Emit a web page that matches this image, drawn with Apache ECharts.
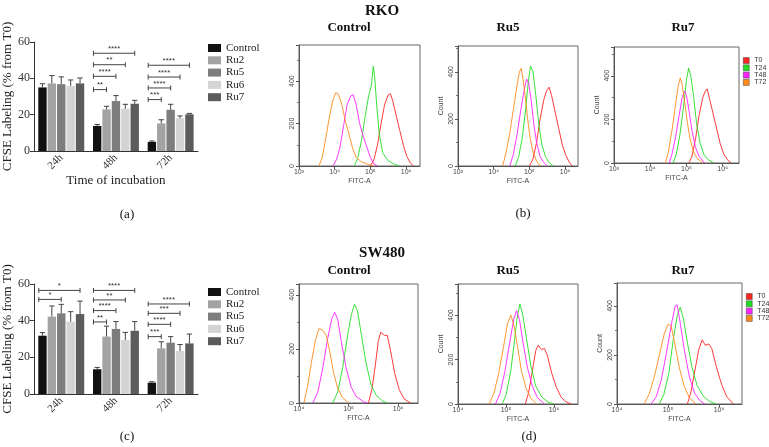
<!DOCTYPE html>
<html><head><meta charset="utf-8">
<script src="https://cdn.jsdelivr.net/npm/echarts@6/dist/echarts.min.js"></script>
<style>html,body{margin:0;padding:0;background:#fff}#c{width:769px;height:447px}</style>
</head><body><div id="c"></div><script>
// ---------- bar chart data ----------
const categories = ['24h', '48h', '72h'];
const groups = ['Control', 'Ru2', 'Ru5', 'Ru6', 'Ru7'];
// (a) RKO
const aControl = [35.0, 13.8, 5.0];   const aControlErr = [2.0, 0.8, 0.5];
const aRu2 = [37.2, 22.9, 15.2];      const aRu2Err = [4.3, 1.7, 2.0];
const aRu5 = [36.8, 27.5, 22.7];      const aRu5Err = [4.0, 3.0, 3.0];
const aRu6 = [35.8, 23.3, 18.0];      const aRu6Err = [3.3, 2.4, 1.3];
const aRu7 = [37.2, 26.0, 20.2];      const aRu7Err = [3.0, 1.9, 0.5];
// [category, compared group index, y]
const aBrackets = [[1,1,33.8],[1,2,41.1],[1,3,47.5],[1,4,53.8],[2,1,28.3],[2,2,34.7],[2,3,40.7],[2,4,47.2]];
const aStars = ['**','****','**','****','***','****','****','****'];
// (c) SW480
const cControl = [31.8, 13.5, 6.2];   const cControlErr = [1.7, 1.0, 0.5];
const cRu2 = [42.2, 31.3, 24.9];      const cRu2Err = [5.8, 5.7, 3.6];
const cRu5 = [44.0, 35.5, 28.0];      const cRu5Err = [4.9, 4.0, 3.3];
const cRu6 = [39.5, 29.5, 23.5];      const cRu6Err = [5.4, 4.1, 3.5];
const cRu7 = [43.6, 34.5, 27.6];      const cRu7Err = [7.1, 5.0, 5.1];
const cBrackets = [[0,2,51.6],[0,4,56.5],[1,1,39.3],[1,2,45.5],[1,3,51.3],[1,4,56.5],[2,1,31.3],[2,2,38.0],[2,3,44.0],[2,4,49.1]];
const cStars = ['*','*','**','****','**','****','***','****','***','****'];

// ---------- histogram data: [log10(FITC-A), count] ----------
const rkoCtlT0 = [[5.0,0],[5.1,30],[5.2,100],[5.3,200],[5.4,290],[5.5,335],[5.56,340],[5.62,310],[5.72,240],[5.82,170],[5.92,100],[6.02,45],[6.12,15],[6.2,0]];
const rkoCtlT24 = [[4.55,0],[4.65,40],[4.75,120],[4.85,230],[4.95,330],[5.03,380],[5.08,470],[5.12,420],[5.18,280],[5.25,150],[5.35,60],[5.5,25],[5.65,10],[5.8,0]];
const rkoCtlT48 = [[3.95,0],[4.05,30],[4.15,90],[4.25,190],[4.35,290],[4.45,330],[4.52,335],[4.6,290],[4.7,200],[4.8,140],[4.9,90],[5.0,40],[5.1,10],[5.2,0]];
const rkoCtlT72 = [[3.56,0],[3.65,40],[3.75,130],[3.85,230],[3.95,310],[4.03,345],[4.1,340],[4.2,290],[4.3,210],[4.4,150],[4.5,85],[4.6,40],[4.75,20],[4.9,10],[5.1,0]];

const rkoRu5T0 = [[5.0,0],[5.1,30],[5.2,100],[5.3,200],[5.4,280],[5.48,320],[5.55,335],[5.62,300],[5.72,230],[5.82,160],[5.92,90],[6.02,45],[6.12,15],[6.2,0]];
const rkoRu5T24 = [[4.6,0],[4.7,40],[4.8,120],[4.9,250],[4.97,360],[5.03,425],[5.1,400],[5.18,300],[5.26,180],[5.35,90],[5.45,40],[5.55,15],[5.67,0]];
const rkoRu5T48 = [[4.45,0],[4.55,50],[4.65,130],[4.75,230],[4.85,320],[4.92,370],[4.98,350],[5.05,280],[5.12,180],[5.2,100],[5.3,40],[5.4,15],[5.5,0]];
const rkoRu5T72 = [[4.25,0],[4.35,60],[4.45,140],[4.55,240],[4.65,340],[4.72,400],[4.77,415],[4.82,370],[4.88,300],[4.95,200],[5.02,120],[5.1,60],[5.2,20],[5.3,0]];

const rkoRu7T0 = [[5.07,0],[5.15,30],[5.25,110],[5.35,220],[5.45,300],[5.52,330],[5.57,340],[5.63,300],[5.73,230],[5.83,160],[5.93,90],[6.03,40],[6.13,15],[6.23,0]];
const rkoRu7T24 = [[4.63,0],[4.72,40],[4.82,130],[4.92,260],[5.0,380],[5.06,435],[5.12,400],[5.2,300],[5.28,180],[5.38,90],[5.48,40],[5.6,15],[5.75,0]];
const rkoRu7T48 = [[4.52,0],[4.6,40],[4.7,120],[4.8,220],[4.88,300],[4.95,330],[5.0,310],[5.07,240],[5.15,150],[5.25,70],[5.35,30],[5.5,0]];
const rkoRu7T72 = [[4.42,0],[4.5,50],[4.6,150],[4.7,270],[4.78,360],[4.83,390],[4.88,360],[4.95,280],[5.02,190],[5.1,110],[5.2,50],[5.3,20],[5.45,0]];

const swCtlT0 = [[5.4,0],[5.47,50],[5.54,140],[5.6,230],[5.65,262],[5.72,250],[5.78,250],[5.85,190],[5.93,110],[6.02,50],[6.12,15],[6.25,0]];
const swCtlT24 = [[4.68,0],[4.78,40],[4.88,130],[4.98,250],[5.06,330],[5.12,365],[5.18,340],[5.26,250],[5.35,150],[5.45,70],[5.55,30],[5.68,8],[5.78,0]];
const swCtlT48 = [[4.28,0],[4.38,40],[4.48,130],[4.58,240],[4.66,310],[4.72,335],[4.78,310],[4.86,220],[4.95,130],[5.05,60],[5.15,25],[5.3,5],[5.38,0]];
const swCtlT72 = [[4.1,0],[4.17,60],[4.25,150],[4.33,230],[4.4,275],[4.47,270],[4.55,250],[4.62,190],[4.7,110],[4.78,55],[4.88,20],[5.0,0]];

const swRu5T0 = [[5.4,0],[5.47,50],[5.55,150],[5.62,240],[5.67,265],[5.74,245],[5.8,250],[5.86,220],[5.95,140],[6.05,75],[6.15,30],[6.25,10],[6.36,0]];
const swRu5T24 = [[4.92,0],[5.0,40],[5.1,150],[5.18,290],[5.24,400],[5.29,450],[5.35,400],[5.43,290],[5.52,170],[5.62,80],[5.75,30],[5.88,8],[6.0,0]];
const swRu5T48 = [[4.78,0],[4.88,50],[4.98,150],[5.08,280],[5.16,380],[5.22,420],[5.28,380],[5.36,270],[5.45,160],[5.55,80],[5.65,30],[5.8,0]];
const swRu5T72 = [[4.65,0],[4.75,50],[4.85,140],[4.95,260],[5.03,360],[5.1,400],[5.16,360],[5.24,260],[5.32,150],[5.42,70],[5.52,25],[5.64,0]];

const swRu7T0 = [[5.38,0],[5.45,50],[5.53,140],[5.6,220],[5.67,262],[5.73,240],[5.8,245],[5.86,225],[5.95,150],[6.05,80],[6.15,30],[6.28,0]];
const swRu7T24 = [[4.83,0],[4.92,40],[5.02,130],[5.1,260],[5.18,360],[5.24,395],[5.3,350],[5.38,250],[5.47,150],[5.57,75],[5.7,30],[5.82,10],[5.94,0]];
const swRu7T48 = [[4.67,0],[4.77,30],[4.87,100],[4.97,210],[5.07,330],[5.14,400],[5.18,405],[5.24,330],[5.32,220],[5.42,110],[5.52,45],[5.62,15],[5.72,0]];
const swRu7T72 = [[4.53,0],[4.63,40],[4.73,110],[4.83,200],[4.93,290],[5.0,325],[5.06,320],[5.13,250],[5.22,150],[5.32,70],[5.42,25],[5.55,0]];

const histNames = ['T0', 'T24', 'T48', 'T72'];
const expLabels = {3: '10³', 4: '10⁴', 5: '10⁵', 6: '10⁶'};

// ---------- styling ----------
const serif = '"Liberation Serif", "Times New Roman", serif';
const sans = '"Liberation Sans", Arial, sans-serif';
const barColors = ['#111111', '#a3a3a3', '#7d7d7d', '#d4d4d4', '#5c5c5c'];
const histColors = ['#ff2424', '#22dd22', '#ff22ff', '#ff8a1a'];
const CAT_GAP = 0.16, BAR_GAP = 0.12;

function barGeom(api, idx) {
  const band = api.size([1, 0])[0];
  const inner = band * (1 - CAT_GAP);
  const w = inner / (groups.length + (groups.length - 1) * BAR_GAP);
  return { w: w, off: -inner / 2 + idx * w * (1 + BAR_GAP) + w / 2 };
}

function barSeries(g, lists) {
  return lists.map((d, i) => ({
    type: 'bar', name: groups[i], xAxisIndex: g, yAxisIndex: g, data: d,
    barCategoryGap: (CAT_GAP * 100) + '%', barGap: (BAR_GAP * 100) + '%',
    itemStyle: { color: barColors[i] }, silent: true
  }));
}

function errorSeries(g, means, errs) {
  const data = [];
  means.forEach((arr, gi) => arr.forEach((m, ci) => data.push([ci, gi, m, m + errs[gi][ci]])));
  return {
    type: 'custom', xAxisIndex: g, yAxisIndex: g, z: 5, silent: true, data: data,
    encode: { x: 0, y: 3 },
    renderItem: function (params, api) {
      const ci = api.value(0), gi = api.value(1);
      const geo = barGeom(api, gi);
      const b = api.coord([ci, api.value(2)]);
      const t = api.coord([ci, api.value(3)]);
      const x = b[0] + geo.off, cap = geo.w * 0.32;
      return { type: 'group', children: [
        { type: 'line', shape: { x1: x, y1: b[1], x2: x, y2: t[1] }, style: { stroke: '#444', lineWidth: 1 } },
        { type: 'line', shape: { x1: x - cap, y1: t[1], x2: x + cap, y2: t[1] }, style: { stroke: '#444', lineWidth: 1 } }
      ] };
    }
  };
}

function bracketSeries(g, items, stars) {
  return {
    type: 'custom', xAxisIndex: g, yAxisIndex: g, z: 6, silent: true, data: items,
    encode: { x: 0, y: 2 },
    renderItem: function (params, api) {
      const ci = api.value(0), ti = api.value(1);
      const p = api.coord([ci, api.value(2)]);
      const g0 = barGeom(api, 0), g1 = barGeom(api, ti);
      const x1 = p[0] + g0.off - g0.w / 2 + 0.5, x2 = p[0] + g1.off, y = p[1];
      const st = { stroke: '#444', lineWidth: 1 };
      return { type: 'group', children: [
        { type: 'line', shape: { x1: x1, y1: y, x2: x2, y2: y }, style: st },
        { type: 'line', shape: { x1: x1, y1: y - 2.5, x2: x1, y2: y + 2.5 }, style: st },
        { type: 'line', shape: { x1: x2, y1: y - 2.5, x2: x2, y2: y + 2.5 }, style: st },
        { type: 'text', x: (x1 + x2) / 2, y: y - 0.5, style: { text: stars[params.dataIndex], fill: '#333', fontSize: 8, fontFamily: sans, align: 'center', verticalAlign: 'bottom' } }
      ] };
    }
  };
}

// ---------- layout ----------
const barGrids = [
  { left: 33, top: 42, width: 165, height: 109 },
  { left: 33, top: 284, width: 165, height: 110 }
];
const histGrids = [
  { left: 299, top: 45, width: 121, height: 121 },
  { left: 458, top: 46, width: 120, height: 120 },
  { left: 614, top: 47, width: 125, height: 116 },
  { left: 299, top: 284, width: 119, height: 119 },
  { left: 458, top: 284, width: 120, height: 120 },
  { left: 617, top: 283, width: 125, height: 121 }
];
const histXMin = [3, 3, 3, 4, 4, 4];
const histXMax = [6.39, 6.36, 6.45, 6.4, 6.5, 6.45];
const histYMax = [570, 510, 532, 440, 540, 494];
const histShowCount = [false, true, true, false, true, true];
const histData = [
  [rkoCtlT0, rkoCtlT24, rkoCtlT48, rkoCtlT72],
  [rkoRu5T0, rkoRu5T24, rkoRu5T48, rkoRu5T72],
  [rkoRu7T0, rkoRu7T24, rkoRu7T48, rkoRu7T72],
  [swCtlT0, swCtlT24, swCtlT48, swCtlT72],
  [swRu5T0, swRu5T24, swRu5T48, swRu5T72],
  [swRu7T0, swRu7T24, swRu7T48, swRu7T72]
];

const grids = [], xAxes = [], yAxes = [], series = [];
barGrids.forEach((g, i) => {
  grids.push(Object.assign({ containLabel: false }, g));
  xAxes.push({
    type: 'category', gridIndex: i, data: categories,
    axisLine: { lineStyle: { color: '#333', width: 1 } },
    axisTick: { alignWithLabel: true, length: 4, lineStyle: { color: '#333' } },
    axisLabel: { rotate: 45, fontFamily: serif, fontSize: 11, color: '#333', margin: 5 },
    name: i === 0 ? 'Time of incubation' : '', nameLocation: 'middle', nameGap: 20,
    nameTextStyle: { fontFamily: serif, fontSize: 13, color: '#222' }
  });
  yAxes.push({
    type: 'value', gridIndex: i, min: 0, max: 60, interval: 20,
    axisLine: { show: true, lineStyle: { color: '#333', width: 1 } },
    axisTick: { show: true, length: 4, lineStyle: { color: '#333' } },
    splitLine: { show: false },
    axisLabel: { fontFamily: serif, fontSize: 12, color: '#333', margin: 4 },
    name: 'CFSE Labeling (% from T0)', nameLocation: 'middle', nameGap: 16, nameRotate: 90,
    nameTextStyle: { fontFamily: serif, fontSize: 13, color: '#222' }
  });
});
histGrids.forEach((g, k) => {
  const gi = k + 2;
  grids.push(Object.assign({ show: true, borderColor: '#666', borderWidth: 1, backgroundColor: 'transparent' }, g));
  xAxes.push({
    type: 'value', gridIndex: gi, min: histXMin[k], max: histXMax[k], interval: 1,
    axisLine: { lineStyle: { color: '#555', width: 1 } },
    axisTick: { length: 3, lineStyle: { color: '#555' } },
    splitLine: { show: false },
    axisLabel: { fontSize: 7, color: '#444', fontFamily: sans, margin: 3, showMaxLabel: false,
      formatter: v => expLabels[v] || '' },
    name: 'FITC-A', nameLocation: 'middle', nameGap: 12,
    nameTextStyle: { fontSize: 7, color: '#444', fontFamily: sans }
  });
  yAxes.push({
    type: 'value', gridIndex: gi, min: 0, max: histYMax[k], interval: 200,
    axisLine: { show: true, lineStyle: { color: '#555', width: 1 } },
    axisTick: { show: true, length: 3, lineStyle: { color: '#555' } },
    minorTick: { show: true, splitNumber: 2, length: 2, lineStyle: { color: '#777' } },
    splitLine: { show: false },
    axisLabel: { rotate: 90, fontSize: 7, color: '#444', fontFamily: sans, margin: 3, showMaxLabel: false },
    name: histShowCount[k] ? 'Count' : '', nameLocation: 'middle', nameGap: 13, nameRotate: 90,
    nameTextStyle: { fontSize: 7, color: '#444', fontFamily: sans }
  });
  histData[k].forEach((d, j) => {
    series.push({
      type: 'line', name: histNames[j], xAxisIndex: gi, yAxisIndex: gi, data: d,
      showSymbol: false, symbol: 'none', silent: true, z: 3,
      lineStyle: { width: 0.9, color: histColors[j] }, itemStyle: { color: histColors[j] }
    });
  });
});

series.push(...barSeries(0, [aControl, aRu2, aRu5, aRu6, aRu7]));
series.push(errorSeries(0, [aControl, aRu2, aRu5, aRu6, aRu7], [aControlErr, aRu2Err, aRu5Err, aRu6Err, aRu7Err]));
series.push(bracketSeries(0, aBrackets, aStars));
series.push(...barSeries(1, [cControl, cRu2, cRu5, cRu6, cRu7]));
series.push(errorSeries(1, [cControl, cRu2, cRu5, cRu6, cRu7], [cControlErr, cRu2Err, cRu5Err, cRu6Err, cRu7Err]));
series.push(bracketSeries(1, cBrackets, cStars));

function txt(x, y, s, font) {
  return { type: 'text', x: x, y: y, style: { text: s, font: font, fill: '#111', align: 'center', verticalAlign: 'middle' } };
}
const titleFont = 'bold 15px "Liberation Serif", serif';
const subFont = 'bold 13px "Liberation Serif", serif';
const panelFont = '13px "Liberation Serif", serif';

const barLegend = {
  data: groups, orient: 'vertical', left: 208, padding: 0, icon: 'rect', itemWidth: 13, itemHeight: 8, itemGap: 0.3,
  textStyle: { fontFamily: serif, fontSize: 11, color: '#222', lineHeight: 12 }, selectedMode: false
};
const histLegend = {
  data: histNames, orient: 'vertical', padding: 0, icon: 'rect', itemWidth: 6, itemHeight: 6, itemGap: 0.3,
  itemStyle: { borderColor: '#444', borderWidth: 0.5 },
  textStyle: { fontFamily: sans, fontSize: 7, color: '#333', lineHeight: 7 }, selectedMode: false
};

const chart = echarts.init(document.getElementById('c'), null, { renderer: 'canvas' });
chart.setOption({
  animation: false,
  backgroundColor: '#fff',
  grid: grids, xAxis: xAxes, yAxis: yAxes, series: series,
  legend: [
    Object.assign({}, barLegend, { top: 42 }),
    Object.assign({}, barLegend, { top: 286 }),
    Object.assign({}, histLegend, { left: 743, top: 57 }),
    Object.assign({}, histLegend, { left: 746, top: 293 })
  ],
  graphic: [
    txt(382, 11, 'RKO', titleFont),
    txt(349, 28, 'Control', subFont),
    txt(508, 28, 'Ru5', subFont),
    txt(683, 28, 'Ru7', subFont),
    txt(382, 253, 'SW480', titleFont),
    txt(349, 271, 'Control', subFont),
    txt(508, 271, 'Ru5', subFont),
    txt(683, 271, 'Ru7', subFont),
    txt(127, 215, '(a)', panelFont),
    txt(523, 214, '(b)', panelFont),
    txt(127, 437, '(c)', panelFont),
    txt(529, 437, '(d)', panelFont)
  ]
});
</script></body></html>
